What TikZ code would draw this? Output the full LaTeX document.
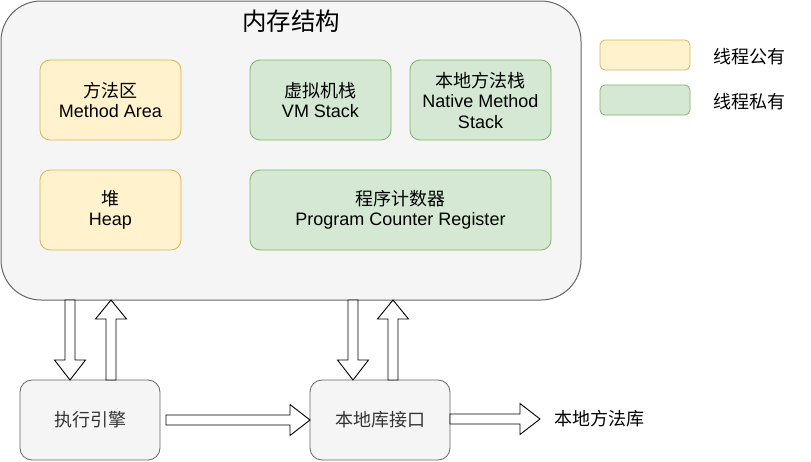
\documentclass[tikz,border=0pt]{standalone}
\usepackage{fontspec}
\setmainfont{Liberation Sans}
\newfontfamily\cjk{Noto Sans CJK SC}
\usetikzlibrary{calc}
\definecolor{ylwfill}{HTML}{FFF2CC}
\definecolor{ylwdraw}{HTML}{D6B656}
\definecolor{grnfill}{HTML}{D5E8D4}
\definecolor{grndraw}{HTML}{82B366}
\definecolor{gryfill}{HTML}{F5F5F5}
\definecolor{grydraw}{HTML}{666666}
\definecolor{txtgray}{HTML}{333333}
\newcommand\blkdown[2]{\draw[barrow] ($(#1)+(-5,0)$) -- ($(#2)+(-5,-20)$) -- ($(#2)+(-15.5,-20)$) -- (#2) -- ($(#2)+(15.5,-20)$) -- ($(#2)+(5,-20)$) -- ($(#1)+(5,0)$) -- cycle;}
\newcommand\blkup[2]{\draw[barrow] ($(#1)+(-5,0)$) -- ($(#2)+(-5,19)$) -- ($(#2)+(-15.5,19)$) -- (#2) -- ($(#2)+(15.5,19)$) -- ($(#2)+(5,19)$) -- ($(#1)+(5,0)$) -- cycle;}
\newcommand\blkright[2]{\draw[barrow] ($(#1)+(0,-5)$) -- ($(#2)+(-20,-5)$) -- ($(#2)+(-20,-15.5)$) -- (#2) -- ($(#2)+(-20,15.5)$) -- ($(#2)+(-20,5)$) -- ($(#1)+(0,5)$) -- cycle;}
\begin{document}
\begin{tikzpicture}[x=1pt,y=-1pt,
  every node/.style={font=\fontsize{18pt}{20.5pt}\selectfont, align=center, inner sep=0pt, outer sep=0pt},
  membox/.style={draw=grydraw, fill=gryfill, line width=1pt, rounded corners=40pt, anchor=north west},
  pubbox/.style={draw=ylwdraw, fill=ylwfill, line width=0.8pt, rounded corners=10pt, anchor=north west, minimum width=141pt, minimum height=80pt},
  privbox/.style={draw=grndraw, fill=grnfill, line width=0.8pt, rounded corners=10pt, anchor=north west, minimum width=141pt, minimum height=80pt},
  grybox/.style={draw=grydraw, fill=gryfill, line width=0.8pt, rounded corners=12pt, anchor=north west, minimum width=140pt, minimum height=80pt, text=txtgray},
  legbox/.style={rounded corners=5pt, line width=0.8pt, anchor=north west, minimum width=90pt, minimum height=30pt},
  legtext/.style={anchor=west},
  barrow/.style={draw=black, fill=white, line width=0.9pt, line join=miter}
]
\useasboundingbox (0,0) rectangle (811,461);
% container
\node[membox, minimum width=580pt, minimum height=299pt] (mem) at (1,1) {};
\node (title) at (291,21) {\fontsize{24.5pt}{27pt}\selectfont\cjk 内存结构};
% inner boxes
\node[pubbox] (method) at (40,60) {{\cjk 方法区}\\Method Area};
\node[pubbox] (heap) at (40,170) {{\cjk 堆}\\Heap};
\node[privbox] (vms) at (250,60) {{\cjk 虚拟机栈}\\VM Stack};
\node[privbox] (nms) at (410,60) {{\cjk 本地方法栈}\\Native Method\\Stack};
\node[privbox, minimum width=301pt] (pcr) at (250,170) {{\cjk 程序计数器}\\Program Counter Register};
% legend
\node[legbox, draw=ylwdraw, fill=ylwfill] (legpub) at (600,40) {};
\node[legbox, draw=grndraw, fill=grnfill] (legpriv) at (600,85) {};
\node[legtext] (legpubt) at (713,57) {\cjk 线程公有};
\node[legtext] (legprivt) at (713,102) {\cjk 线程私有};
% bottom boxes
\node[grybox] (ee) at (20,380) {\cjk 执行引擎};
\node[grybox] (lib) at (310,380) {\cjk 本地库接口};
\node[anchor=west] (natlib) at (554,419) {\cjk 本地方法库};
% arrow end points
\coordinate (a1t) at ($(ee.north west)+(50,0)$);
\coordinate (a1s) at (a1t |- mem.south);
\coordinate (a2s) at ($(ee.north west)+(91,0)$);
\coordinate (a2t) at (a2s |- mem.south);
\coordinate (a3t) at ($(lib.north west)+(43,0)$);
\coordinate (a3s) at (a3t |- mem.south);
\coordinate (a4s) at ($(lib.north west)+(83,0)$);
\coordinate (a4t) at (a4s |- mem.south);
\coordinate (h1s) at ($(ee.east)+(6,0)$);
\coordinate (h2s) at ($(lib.east)+(0,-1)$);
\coordinate (h2t) at ($(natlib.west)+(-14,0)$);
% arrows
\blkdown{a1s}{a1t}
\blkup{a2s}{a2t}
\blkdown{a3s}{a3t}
\blkup{a4s}{a4t}
\blkright{h1s}{lib.west}
\blkright{h2s}{h2t}
\end{tikzpicture}
\end{document}
